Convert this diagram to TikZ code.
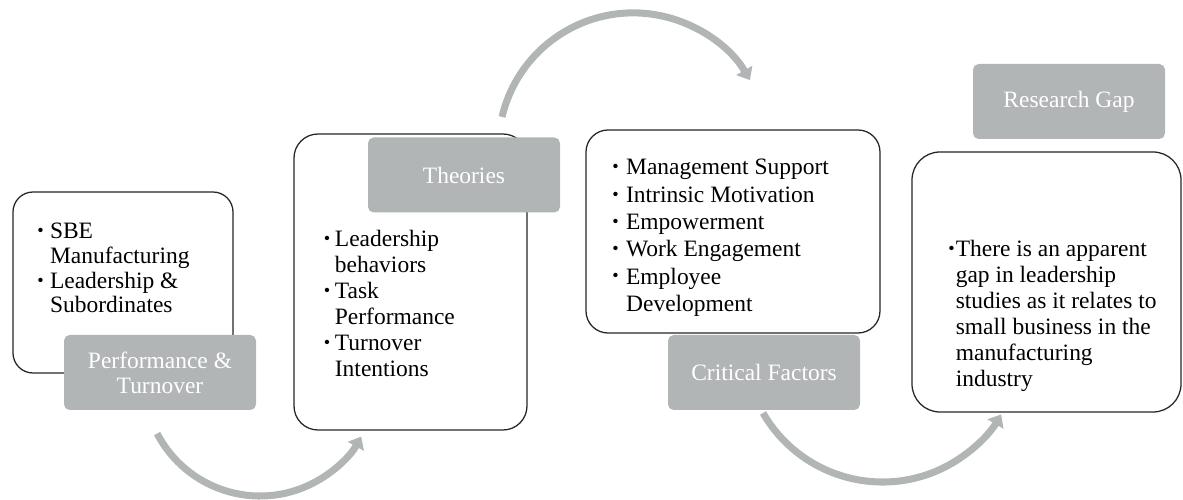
\documentclass[tikz,border=0pt]{standalone}
\usepackage{fontspec}
\setmainfont{Liberation Serif}
\usetikzlibrary{arrows.meta}

\definecolor{taggray}{RGB}{178,181,182}
\newcommand{\bul}{\raisebox{1.5pt}{\fontsize{13}{13}\selectfont\textbullet}}

\begin{document}
\begin{tikzpicture}[
    panelbox/.style={draw=black!85, line width=0.9pt, fill=white, inner sep=0pt},
    tagbox/.style={fill=taggray, rounded corners=4pt, minimum width=4.8cm, minimum height=1.875cm, text=white, align=center, font=\fontsize{16.7}{17.8}\selectfont},
    itemlist/.style={anchor=base west, inner sep=0pt, font=\fontsize{16.7}{#1}\selectfont},
    itemlist/.default=18.5,
    flowarc/.style={draw=taggray, line width=5pt, -{Triangle[width=0.45cm, length=0.28cm]}}
]
\useasboundingbox (0,0) rectangle (29.575,12.5);

% ----------------- 1. 白色圆角框 -----------------
\node[panelbox, rounded corners=0.5cm,  minimum width=5.5cm,   minimum height=4.525cm] (sbebox)  at (3.075, 5.4375)   {};
\node[panelbox, rounded corners=0.6cm,  minimum width=5.825cm, minimum height=7.4cm]   (theobox) at (10.2625, 5.45)   {};
\node[panelbox, rounded corners=0.55cm, minimum width=7.35cm,  minimum height=5.075cm] (critbox) at (18.325, 6.7125)  {};
\node[panelbox, rounded corners=0.7cm,  minimum width=6.725cm, minimum height=6.5cm]   (gapbox)  at (26.1625, 5.45)   {};

% ----------------- 2. 灰色标题块 (压在框线上) -----------------
\node[tagbox] (perftag) at (4.0, 3.1875)   {Performance \&\\Turnover};
\node[tagbox] (theotag) at (11.6, 8.125)   {Theories};
\node[tagbox] (crittag) at (19.1, 3.1875)  {Critical Factors};
\node[tagbox] (gaptag)  at (26.725, 9.9625) {Research Gap};

% ----------------- 3. 框内条目 -----------------
\node[itemlist=17.5] (sbelist) at (0.925, 6.525) {\begin{tabular}[t]{@{}l@{\hspace{4.5pt}}l@{}}
    \bul & SBE\\ & Manufacturing\\
    \bul & Leadership \&\\ & Subordinates
\end{tabular}};
\node[itemlist] (theolist) at (8.09, 6.3325) {\begin{tabular}[t]{@{}l@{\hspace{3.3pt}}l@{}}
    \bul & Leadership\\ & behaviors\\
    \bul & Task\\ & Performance\\
    \bul & Turnover\\ & Intentions
\end{tabular}};
\node[itemlist=19.4] (critlist) at (15.3, 8.125) {\begin{tabular}[t]{@{}l@{\hspace{5.3pt}}l@{}}
    \bul & Management Support\\
    \bul & Intrinsic Motivation\\
    \bul & Empowerment\\
    \bul & Work Engagement\\
    \bul & Employee\\ & Development
\end{tabular}};
\node[itemlist] (gaplist) at (23.7, 6.0825) {\begin{tabular}[t]{@{}l@{\hspace{0.8pt}}l@{}}
    \bul & There is an apparent\\ & gap in leadership\\ & studies as it relates to\\
    & small business in the\\ & manufacturing\\ & industry
\end{tabular}};

% ----------------- 4. 灰色弧形箭头 -----------------
\coordinate (arcone)   at (3.928, 1.661);   % 左下弧起点
\coordinate (arctwo)   at (12.551, 9.577);  % 上方弧起点
\coordinate (arcthree) at (19.075, 2.175);  % 右下弧起点
\draw[flowarc] (arcone)   arc[start angle=207.5, end angle=330.8, radius=2.9cm];
\draw[flowarc] (arctwo)   arc[start angle=166.8, end angle=30.1,  radius=3.37cm];
\draw[flowarc] (arcthree) arc[start angle=210,   end angle=329.3, radius=3.45cm];

\end{tikzpicture}
\end{document}
